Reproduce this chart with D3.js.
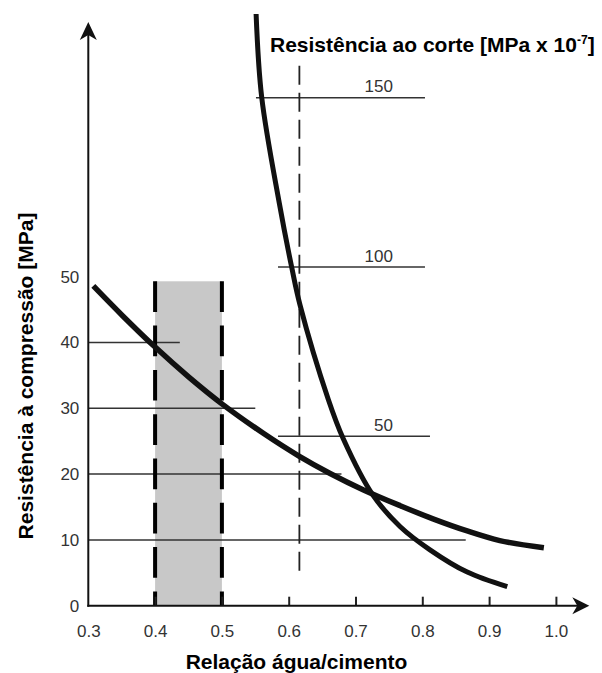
<!DOCTYPE html>
<html><head><meta charset="utf-8">
<script src="https://cdn.jsdelivr.net/npm/d3@7/dist/d3.min.js"></script>
<style>body{margin:0;background:#fff}svg{display:block}</style>
</head><body>
<svg id="chart" width="602" height="673"></svg>
<script>
// ---- data ----
const xTicks = [0.3, 0.4, 0.5, 0.6, 0.7, 0.8, 0.9, 1.0];
const yTicks = [0, 10, 20, 30, 40, 50];

// compressive strength [MPa] vs water/cement ratio
const compressionX = [0.3075, 0.352, 0.400, 0.451, 0.501, 0.562, 0.616, 0.662, 0.712, 0.767, 0.816, 0.866, 0.916, 0.982];
const compressionY = [48.6, 44.0, 39.3, 34.7, 30.6, 26.2, 22.7, 20.1, 17.6, 15.2, 13.2, 11.4, 9.9, 8.8];

// shear strength [MPa x 10^-7] vs water/cement ratio
const shearX = [0.5512, 0.5596, 0.5859, 0.6045, 0.6169, 0.6593, 0.6817, 0.7266, 0.7666, 0.8115, 0.8665, 0.9272];
const shearY = [174.7, 150.1, 118.9, 99.9, 88.8, 60.9, 49.3, 32.5, 23.4, 16.5, 10.0, 5.6];

// shaded band of recommended w/c ratio
const bandX = [0.4, 0.5];
const bandTop = 49.3;

// horizontal reference lines on compression scale
const compRefLevels = [40, 30, 20, 10];
const compRefEnds = [0.437, 0.55, 0.679, 0.865];

// shear scale reference lines
const shearLevels = [150, 100, 50];
const shearLabels = ["150", "100", "50"];
const shearStarts = [0.551, 0.584, 0.584];
const shearEnds = [0.804, 0.804, 0.8115];
const shearLabelX = 0.756;

// vertical dashed marker
const wcMark = 0.616;
const wcMarkRange = [9.2, 159.4];

const titleTop = "Resistência ao corte [MPa x 10";
const titleTopSup = "-7";
const titleX = "Relação água/cimento";
const titleY = "Resistência à compressão [MPa]";

// ---- drawing ----
const FONT = "'Liberation Sans', Arial, Helvetica, sans-serif";
const svg = d3.select("#chart");

const x = d3.scaleLinear().domain([0.3, 1.0]).range([88.3, 555.9]);
const y = d3.scaleLinear().domain([0, 50]).range([605.7, 276.7]);
const y2 = d3.scaleLinear().domain([0, 150]).range([605.7, 97.65]);

// gray band
svg.append("rect")
  .attr("x", x(bandX[0])).attr("y", y(bandTop))
  .attr("width", x(bandX[1]) - x(bandX[0]))
  .attr("height", y(0) - y(bandTop))
  .attr("fill", "#c8c8c8");

// compression reference lines
svg.selectAll("line.cref").data(compRefLevels).join("line")
  .attr("class", "cref")
  .attr("x1", x(0.3)).attr("x2", (d, i) => x(compRefEnds[i]))
  .attr("y1", d => y(d)).attr("y2", d => y(d))
  .attr("stroke", "#333").attr("stroke-width", 1.5);

// shear reference lines
svg.selectAll("line.sref").data(shearLevels).join("line")
  .attr("class", "sref")
  .attr("x1", (d, i) => x(shearStarts[i])).attr("x2", (d, i) => x(shearEnds[i]))
  .attr("y1", d => y2(d)).attr("y2", d => y2(d))
  .attr("stroke", "#333").attr("stroke-width", 1.5);

svg.selectAll("text.slab").data(shearLevels).join("text")
  .attr("class", "slab")
  .attr("x", x(shearLabelX)).attr("y", d => y2(d) - 5.5)
  .attr("text-anchor", "end")
  .attr("font-family", FONT).attr("font-size", 17).attr("fill", "#333")
  .text((d, i) => shearLabels[i]);

// vertical thin dashed marker
svg.append("line")
  .attr("x1", x(wcMark)).attr("x2", x(wcMark))
  .attr("y1", y2(wcMarkRange[1])).attr("y2", y2(wcMarkRange[0]))
  .attr("stroke", "#222").attr("stroke-width", 1.8)
  .attr("stroke-dasharray", "19,8");

// band dashed borders
svg.selectAll("line.bandEdge").data(bandX).join("line")
  .attr("class", "bandEdge")
  .attr("x1", d => x(d)).attr("x2", d => x(d))
  .attr("y1", y(bandTop)).attr("y2", y(0))
  .attr("stroke", "#000").attr("stroke-width", 4)
  .attr("stroke-dasharray", "30.7,13.6");

// x axis
const xAxis = d3.axisBottom(x).tickValues(xTicks)
  .tickFormat(d3.format(".1f"))
  .tickSizeInner(-9).tickSizeOuter(0).tickPadding(19);
const gx = svg.append("g").attr("transform", `translate(0,${y(0)})`).call(xAxis);
gx.select(".domain").remove();
gx.selectAll(".tick line").attr("stroke", "#222").attr("stroke-width", 2)
  .filter(d => d < 0.35).remove();
gx.selectAll(".tick text").attr("font-family", FONT).attr("font-size", 17).attr("fill", "#333");

// y axis
const yAxis = d3.axisLeft(y).tickValues(yTicks).tickSize(0).tickPadding(9);
const gy = svg.append("g").attr("transform", `translate(${x(0.3)},0)`).call(yAxis);
gy.select(".domain").remove();
gy.selectAll(".tick text").attr("font-family", FONT).attr("font-size", 17).attr("fill", "#333");

// axis lines with arrows
const yTopPx = y(88.7);
const xEndPx = x(1.05);
svg.append("line").attr("x1", x(0.3)).attr("x2", x(0.3))
  .attr("y1", y(0) + 1).attr("y2", yTopPx + 10)
  .attr("stroke", "#111").attr("stroke-width", 2);
svg.append("line").attr("x1", x(0.3) - 1).attr("x2", xEndPx - 10)
  .attr("y1", y(0)).attr("y2", y(0))
  .attr("stroke", "#111").attr("stroke-width", 2);
const ax = x(0.3);
svg.append("path")
  .attr("d", `M${ax},${yTopPx} L${ax + 8.5},${yTopPx + 18} L${ax},${yTopPx + 13} L${ax - 8.5},${yTopPx + 18} Z`)
  .attr("fill", "#111");
const ay = y(0);
svg.append("path")
  .attr("d", `M${xEndPx},${ay} L${xEndPx - 17},${ay - 8.5} L${xEndPx - 12},${ay} L${xEndPx - 17},${ay + 8.5} Z`)
  .attr("fill", "#111");

// curves
const compPts = compressionX.map((v, i) => [x(v), y(compressionY[i])]);
const shearPts = shearX.map((v, i) => [x(v), y2(shearY[i])]);
const lineGen = d3.line().curve(d3.curveCatmullRom.alpha(0.5));
svg.append("path").attr("d", lineGen(compPts))
  .attr("fill", "none").attr("stroke", "#111").attr("stroke-width", 5.5);
svg.append("path").attr("d", lineGen(shearPts))
  .attr("fill", "none").attr("stroke", "#111").attr("stroke-width", 5);

// titles
const tt = svg.append("text").attr("x", 270).attr("y", 51.7)
  .attr("font-family", FONT).attr("font-size", 21).attr("font-weight", "bold").attr("fill", "#000");
tt.append("tspan").text(titleTop);
tt.append("tspan").attr("font-size", 12).attr("dy", -8).text(titleTopSup);
tt.append("tspan").attr("dy", 8).text("]");

svg.append("text").attr("x", 296.5).attr("y", 669)
  .attr("text-anchor", "middle")
  .attr("font-family", FONT).attr("font-size", 21).attr("font-weight", "bold").attr("fill", "#000")
  .text(titleX);

svg.append("text").attr("transform", "translate(33,376) rotate(-90)")
  .attr("text-anchor", "middle")
  .attr("font-family", FONT).attr("font-size", 21).attr("font-weight", "bold").attr("fill", "#000")
  .text(titleY);
</script>
</body></html>
